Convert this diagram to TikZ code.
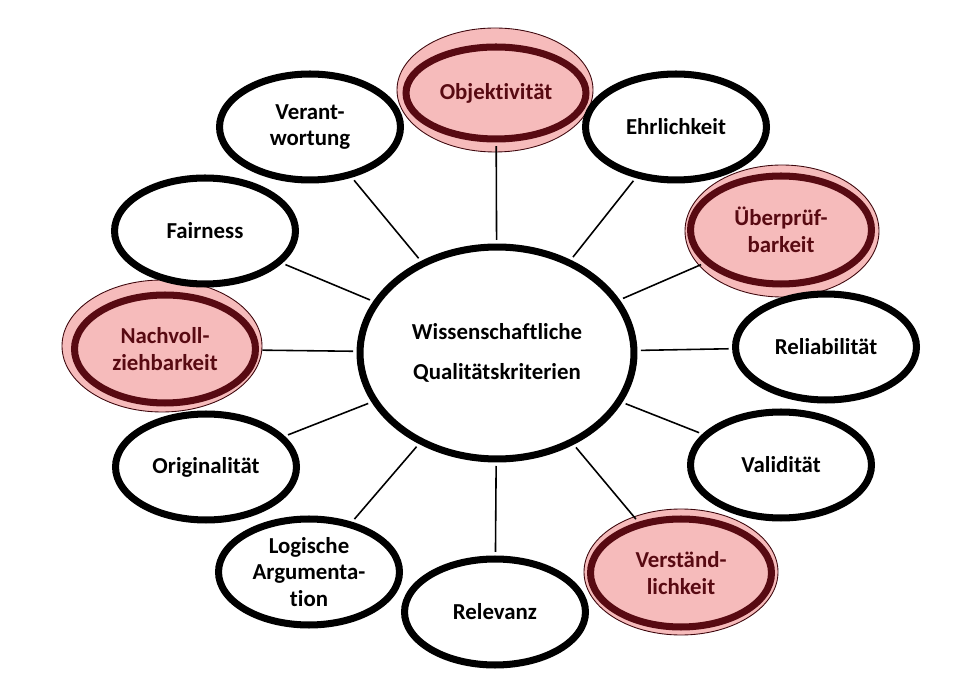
\documentclass[tikz,border=0pt]{standalone}
\usepackage{fontspec}
\setmainfont{Carlito}[Ligatures=NoCommon]
\usetikzlibrary{shapes.geometric}
\definecolor{rosa}{RGB}{246,187,187}
\definecolor{weinrot}{RGB}{88,10,18}
\begin{document}
\begin{tikzpicture}[x=0.02cm, y=-0.02cm,
    kriterium/.style={ellipse, draw, fill=white, line width=4pt, inner sep=0pt,
      minimum width=3.62cm, minimum height=2.12cm, align=center,
      font=\fontsize{13}{15.3}\selectfont\bfseries},
    markiert/.style={kriterium, draw=weinrot, fill=rosa, text=weinrot},
    schein/.style={fill=rosa, draw=weinrot!70!black, line width=0.5pt},
    verbindung/.style={line width=0.9pt, shorten <=2pt, shorten >=2pt}]
  \useasboundingbox (0,0) rectangle (960,695);
  % rosa Schein hinter den markierten Kriterien
  \draw[schein] (495,90) ellipse [x radius=98, y radius=62];
  \draw[schein] (782,231) ellipse [x radius=97, y radius=66];
  \draw[schein] (681,572) ellipse [x radius=97, y radius=63];
  \draw[schein] (162,346) ellipse [x radius=100, y radius=66];
  % Mitte
  \node[kriterium, minimum width=5.48cm, minimum height=4.24cm,
    font=\fontsize{13}{22.7}\selectfont\bfseries] (zentrum) at (497,353)
    {Wissenschaftliche\\Qualitätskriterien};
  % Kriterien im Uhrzeigersinn
  \node[markiert, minimum width=3.6cm, minimum height=1.84cm] (obj) at (496,93) {Objektivität};
  \node[kriterium] (ehr) at (676,127) {Ehrlichkeit};
  \node[markiert, minimum height=2.16cm] (ueb) at (781,230) {Überprüf-\\barkeit};
  \node[kriterium] (rel) at (826,347) {Reliabilität};
  \node[kriterium] (val) at (781,465) {Validität};
  \node[markiert, minimum height=2.16cm] (verst) at (681,573) {Verständ-\\lichkeit};
  \node[kriterium] (relev) at (495,612) {Relevanz};
  \node[kriterium] (logik) at (309,572) {Logische\\Argumenta-\\tion};
  \node[kriterium] (orig) at (206,467) {Originalität};
  \node[markiert, minimum height=2.16cm] (nach) at (165,349) {Nachvoll-\\ziehbarkeit};
  \node[kriterium] (fair) at (205,231) {Fairness};
  \node[kriterium] (verant) at (310,127) {Verant-\\wortung};
  % Verbindungen
  \foreach \k in {obj,ehr,ueb,rel,val,verst,relev,logik,orig,nach,fair,verant}
    \draw[verbindung] (zentrum) -- (\k);
\end{tikzpicture}
\end{document}
